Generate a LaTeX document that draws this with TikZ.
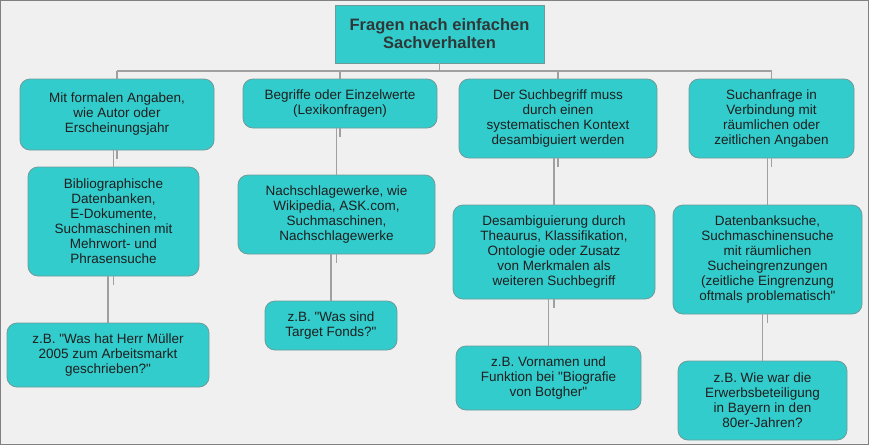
\documentclass[tikz,border=0pt]{standalone}
\usepackage{fontspec}
\setmainfont{Liberation Sans}[Ligatures=TeXOff]
\definecolor{tuerkis}{HTML}{33CCCC}
\definecolor{boxrand}{HTML}{6E9A9A}
\definecolor{linie}{HTML}{A0A0A0}
\definecolor{rahmen}{HTML}{808080}
\definecolor{hinterg}{HTML}{F0F0F0}
\definecolor{schrift}{HTML}{1E1E1E}
\definecolor{titelschrift}{HTML}{2E3838}
\begin{document}
\begin{tikzpicture}[x=1pt, y=-1pt,
    box/.style={draw=boxrand, line width=0.8pt, fill=tuerkis, rounded corners=10pt, align=center, text=schrift, inner sep=2pt, font=\fontsize{13.5}{15}\selectfont},
    titel/.style={draw=boxrand, line width=0.8pt, fill=tuerkis, align=center, text=titelschrift, font=\fontsize{16.5}{18}\selectfont\bfseries},
    link/.style={draw=linie, line width=1.3pt}]
\useasboundingbox (0,0) rectangle (869,445);
\draw[draw=rahmen, fill=hinterg, line width=1pt] (0.5,0.5) rectangle (868.5,444.5);
\node[titel, minimum width=209pt, minimum height=58pt] (frage) at (439.5,34) {Fragen nach einfachen\\Sachverhalten};
% erste Ebene
\node[box, minimum width=194pt, minimum height=71pt] (formal) at (117,114.5) {Mit formalen Angaben,\\wie Autor oder\\Erscheinungsjahr};
\node[box, minimum width=194pt, minimum height=49pt] (lexikon) at (340,103.5) {Begriffe oder Einzelwerte\\(Lexikonfragen)};
\node[box, minimum width=198pt, minimum height=79pt] (kontext) at (558,118.5) {Der Suchbegriff muss\\durch einen\\systematischen Kontext\\desambiguiert werden};
\node[box, minimum width=165pt, minimum height=79pt] (raum) at (771.5,118.5) {Suchanfrage in\\Verbindung mit\\räumlichen oder\\zeitlichen Angaben};
% zweite Ebene
\node[box, minimum width=171pt, minimum height=109pt] (biblio) at (113.5,221.5) {Bibliographische\\Datenbanken,\\E-Dokumente,\\Suchmaschinen mit\\Mehrwort- und\\Phrasensuche};
\node[box, minimum width=197pt, minimum height=79pt] (nachschlag) at (336.5,214.5) {Nachschlagewerke, wie\\Wikipedia, ASK.com,\\Suchmaschinen,\\Nachschlagewerke};
\node[box, minimum width=202pt, minimum height=94pt] (desamb) at (554,252) {Desambiguierung durch\\Theaurus, Klassifikation,\\Ontologie oder Zusatz\\von Merkmalen als\\weiteren Suchbegriff};
\node[box, minimum width=189pt, minimum height=109pt] (datenbank) at (767.5,259.5) {Datenbanksuche,\\Suchmaschinensuche\\mit räumlichen\\Sucheingrenzungen\\(zeitliche Eingrenzung\\oftmals problematisch"};
% Beispiele
\node[box, minimum width=202pt, minimum height=64pt] (mueller) at (108,355) {z.B. "Was hat Herr Müller\\2005 zum Arbeitsmarkt\\geschrieben?"};
\node[box, minimum width=132pt, minimum height=49pt] (fonds) at (331,325.5) {z.B. "Was sind\\Target Fonds?"};
\node[box, minimum width=185pt, minimum height=64pt] (botgher) at (548.5,378) {z.B. Vornamen und\\Funktion bei "Biografie\\von Botgher"};
\node[box, minimum width=169pt, minimum height=79pt] (bayern) at (762.5,400.5) {z.B. Wie war die\\Erwerbsbeteiligung\\in Bayern in den\\80er-Jahren?};
% Verbindungen
\coordinate (bus) at (0,71);
\draw[link] (frage.south) -- (frage.south |- bus);
\draw[link] (formal.north |- bus) -- (raum.north |- bus);
\foreach \n in {formal,lexikon,kontext,raum}
    \draw[link] (\n.north |- bus) -- (\n.north);
\foreach \a/\b in {formal/biblio, biblio/mueller, lexikon/nachschlag, nachschlag/fonds, kontext/desamb, desamb/botgher, raum/datenbank, datenbank/bayern}{
    \draw[link] (\a.south -| \b.north) -- (\b.north);
    \draw[link] (\a.south) -- ++(0,9);
}
\end{tikzpicture}
\end{document}
